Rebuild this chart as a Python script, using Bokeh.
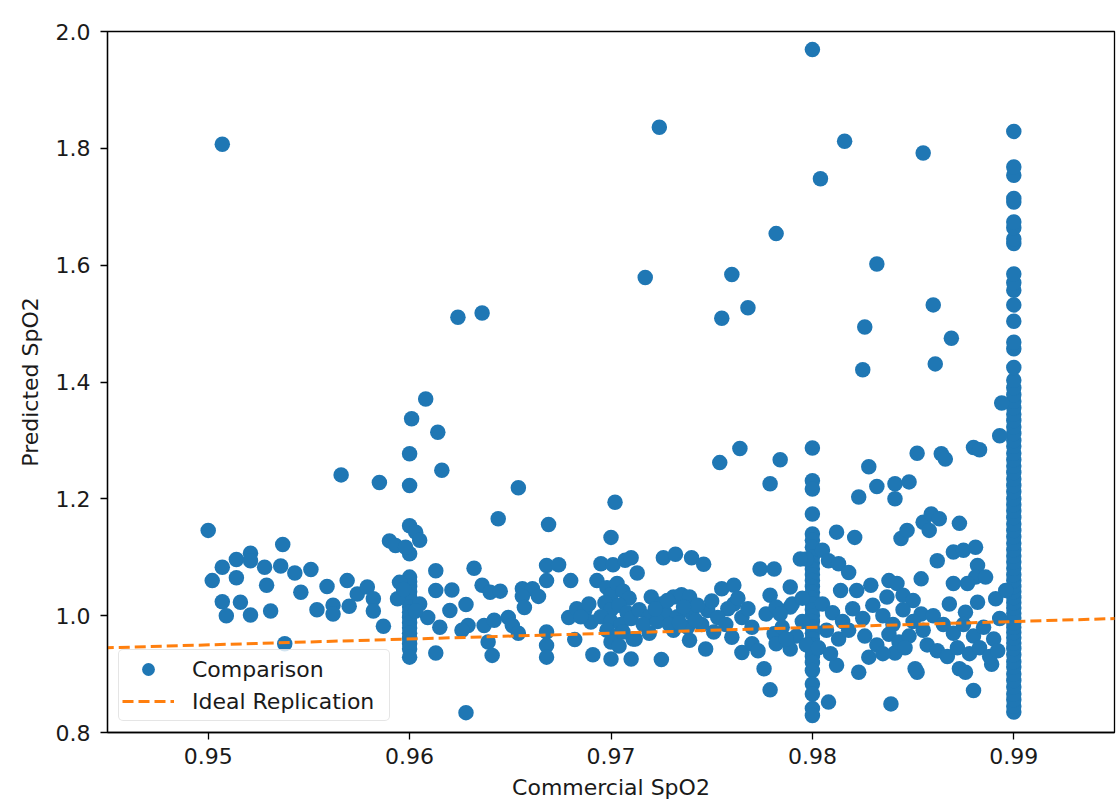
from bokeh.plotting import figure
from bokeh.models import Range1d, FixedTicker, Legend, LegendItem, ColumnDataSource
from bokeh.embed import file_html
from bokeh.resources import INLINE

# ---------------- data ----------------
x_ticks = [0.95, 0.96, 0.97, 0.98, 0.99]
x_tick_labels = ["0.95", "0.96", "0.97", "0.98", "0.99"]
y_ticks = [0.8, 1.0, 1.2, 1.4, 1.6, 1.8, 2.0]
y_tick_labels = ["0.8", "1.0", "1.2", "1.4", "1.6", "1.8", "2.0"]

# points stacked on the three commercial values that appear as columns
col_096_y = [1.277, 1.223, 1.154, 1.106, 1.066, 1.058, 1.050, 1.041, 1.032, 1.024,
             1.015, 1.006, 0.997, 0.988, 0.979, 0.970, 0.961, 0.952, 0.943, 0.929]
col_098_y = [1.969, 1.287, 1.231, 1.217, 1.174, 1.140, 1.129, 1.117, 1.100, 1.090,
             1.080, 1.070, 1.060, 1.050, 1.040, 1.030, 1.020, 1.010, 1.000, 0.990,
             0.980, 0.970, 0.960, 0.950, 0.940, 0.930, 0.920, 0.906, 0.883, 0.866,
             0.841, 0.829]
col_099_y = [0.835, 0.845, 0.856, 0.866, 0.878, 0.889, 0.900, 0.912, 0.921, 0.933,
             0.944, 0.953, 0.962, 0.971, 0.980, 0.988, 0.996, 1.004, 1.013, 1.022,
             1.031, 1.041, 1.050, 1.060, 1.070, 1.081, 1.092, 1.102, 1.113, 1.124,
             1.135, 1.146, 1.157, 1.168, 1.179, 1.190, 1.200, 1.212, 1.223, 1.234,
             1.245, 1.256, 1.267, 1.278, 1.290, 1.300, 1.312, 1.323, 1.334, 1.345,
             1.356, 1.367, 1.378, 1.390, 1.403, 1.425, 1.457, 1.468, 1.504, 1.532,
             1.557, 1.570, 1.585, 1.637, 1.645, 1.664, 1.674, 1.708, 1.714, 1.754,
             1.768, 1.829]

# remaining scattered points (commercial, predicted)
scattered_points = [
    (0.9507, 1.807), (0.9500, 1.146), (0.9537, 1.122), (0.9521, 1.107), (0.9514, 1.096),
    (0.9507, 1.083), (0.9521, 1.094), (0.9528, 1.083), (0.9536, 1.085), (0.9543, 1.073),
    (0.9551, 1.079), (0.9502, 1.060), (0.9514, 1.065), (0.9529, 1.052), (0.9546, 1.040),
    (0.9559, 1.050), (0.9569, 1.060), (0.9507, 1.024), (0.9516, 1.023), (0.9509, 1.000),
    (0.9521, 1.001), (0.9531, 1.008), (0.9554, 1.010), (0.9562, 1.018), (0.9562, 1.003),
    (0.9570, 1.016), (0.9574, 1.037), (0.9579, 1.049), (0.9582, 1.029), (0.9582, 1.008),
    (0.9587, 0.982), (0.9538, 0.952), (0.9566, 1.241), (0.9585, 1.228), (0.9590, 1.128),
    (0.9593, 1.120), (0.9595, 1.057), (0.9594, 1.029),
    (0.9601, 1.337), (0.9608, 1.371), (0.9614, 1.314), (0.9616, 1.249), (0.9624, 1.511),
    (0.9636, 1.518), (0.9603, 1.143), (0.9605, 1.129), (0.9598, 1.117), (0.9605, 1.020),
    (0.9609, 0.997), (0.9613, 1.077), (0.9613, 1.043), (0.9615, 0.980), (0.9613, 0.936),
    (0.9597, 1.045), (0.9603, 1.008),
    (0.9621, 1.044), (0.9628, 1.019), (0.9620, 1.009), (0.9629, 0.983), (0.9626, 0.975),
    (0.9632, 1.081), (0.9628, 0.834), (0.9644, 1.166), (0.9654, 1.219), (0.9669, 1.156),
    (0.9636, 1.052), (0.9640, 1.040), (0.9645, 1.042), (0.9637, 0.983), (0.9639, 0.955),
    (0.9641, 0.932), (0.9642, 0.992), (0.9649, 0.997), (0.9651, 0.983), (0.9654, 0.970),
    (0.9656, 1.046), (0.9661, 1.046), (0.9664, 1.033), (0.9656, 1.033), (0.9657, 1.014),
    (0.9668, 1.086), (0.9674, 1.087), (0.9668, 1.060), (0.9680, 1.060), (0.9668, 0.972),
    (0.9668, 0.949), (0.9668, 0.929), (0.9682, 0.959), (0.9679, 0.997), (0.9683, 1.012),
    (0.9687, 1.009), (0.9690, 0.989), (0.9691, 0.933),
    (0.9695, 1.089), (0.9701, 1.087), (0.9707, 1.095), (0.9710, 1.099), (0.9713, 1.073),
    (0.9702, 1.194), (0.9700, 1.134),
    (0.9693, 1.060), (0.9698, 1.048), (0.9700, 1.036), (0.9703, 1.055), (0.9706, 1.042),
    (0.9709, 1.030), (0.9697, 1.022), (0.9700, 1.010), (0.9704, 1.018), (0.9708, 1.005),
    (0.9695, 0.998), (0.9700, 0.990), (0.9705, 0.985), (0.9710, 0.995), (0.9698, 0.975),
    (0.9702, 0.965), (0.9706, 0.972), (0.9700, 0.955), (0.9704, 0.948), (0.9700, 0.926),
    (0.9710, 0.926), (0.9712, 0.960), (0.9685, 0.998), (0.9689, 1.020),
    (0.9717, 1.579), (0.9724, 1.836), (0.9755, 1.509), (0.9760, 1.584), (0.9768, 1.527),
    (0.9782, 1.654), (0.9754, 1.262), (0.9764, 1.286), (0.9784, 1.267), (0.9779, 1.226),
    (0.9726, 1.099), (0.9732, 1.105), (0.9740, 1.099), (0.9746, 1.088),
    (0.9720, 1.032), (0.9725, 1.020), (0.9731, 1.032), (0.9735, 1.036), (0.9739, 1.032),
    (0.9714, 1.010), (0.9719, 0.998), (0.9727, 1.004), (0.9733, 0.998), (0.9740, 1.004),
    (0.9719, 0.970), (0.9731, 0.975), (0.9738, 0.980), (0.9711, 0.960), (0.9725, 0.925),
    (0.9739, 0.958), (0.9747, 0.943), (0.9751, 0.972), (0.9755, 1.046), (0.9761, 1.052),
    (0.9761, 1.020), (0.9758, 1.012), (0.9748, 1.009), (0.9753, 0.997), (0.9760, 0.963),
    (0.9765, 0.937), (0.9770, 0.952), (0.9773, 0.940), (0.9765, 0.997), (0.9770, 0.980),
    (0.9774, 1.080), (0.9781, 1.080), (0.9779, 1.035), (0.9777, 1.003), (0.9782, 1.015),
    (0.9781, 0.969), (0.9782, 0.952), (0.9776, 0.909), (0.9779, 0.873), (0.9789, 1.049),
    (0.9789, 1.015), (0.9784, 1.003), (0.9789, 0.943), (0.9797, 1.097), (0.9794, 1.097),
    (0.9750, 1.025), (0.9745, 0.985), (0.9757, 0.985), (0.9763, 1.030), (0.9768, 1.012),
    (0.9716, 0.985), (0.9723, 0.990), (0.9729, 0.985), (0.9743, 1.018),
    (0.9722, 1.012), (0.9728, 1.026), (0.9736, 1.015), (0.9742, 0.992), (0.9734, 0.988),
    (0.9790, 1.020), (0.9795, 0.990), (0.9785, 0.980), (0.9792, 0.965), (0.9787, 0.960),
    (0.9795, 1.030), (0.9797, 0.950),
    (0.9804, 1.748), (0.9816, 1.812), (0.9855, 1.792), (0.9832, 1.602), (0.9860, 1.532),
    (0.9826, 1.494), (0.9869, 1.475), (0.9861, 1.431), (0.9825, 1.421),
    (0.9894, 1.364), (0.9893, 1.308), (0.9880, 1.288), (0.9883, 1.284), (0.9864, 1.277),
    (0.9866, 1.268), (0.9852, 1.278), (0.9828, 1.255),
    (0.9832, 1.221), (0.9841, 1.226), (0.9848, 1.229), (0.9841, 1.200), (0.9823, 1.203),
    (0.9812, 1.143), (0.9821, 1.134), (0.9844, 1.132), (0.9847, 1.146),
    (0.9855, 1.160), (0.9859, 1.174), (0.9863, 1.166), (0.9858, 1.146), (0.9873, 1.158),
    (0.9862, 1.094), (0.9870, 1.109), (0.9875, 1.112), (0.9881, 1.117),
    (0.9882, 1.086), (0.9881, 1.066), (0.9886, 1.066), (0.9877, 1.055), (0.9870, 1.055),
    (0.9854, 1.063),
    (0.9868, 1.020), (0.9876, 1.006), (0.9882, 1.023), (0.9891, 1.029), (0.9896, 1.043),
    (0.9805, 1.112), (0.9808, 1.094), (0.9813, 1.089), (0.9818, 1.074),
    (0.9829, 1.052), (0.9838, 1.060), (0.9842, 1.055), (0.9814, 1.043), (0.9822, 1.043),
    (0.9837, 1.032), (0.9845, 1.035), (0.9850, 1.026), (0.9854, 1.003),
    (0.9880, 0.872), (0.9873, 0.909), (0.9876, 0.903), (0.9889, 0.917),
    (0.9852, 0.903), (0.9851, 0.909), (0.9841, 0.936), (0.9839, 0.849), (0.9808, 0.852),
    (0.9823, 0.903), (0.9812, 0.915), (0.9828, 0.929),
    (0.9805, 1.020), (0.9810, 1.005), (0.9815, 0.990), (0.9820, 1.012), (0.9825, 0.995),
    (0.9830, 1.018), (0.9835, 1.000), (0.9840, 0.985), (0.9845, 1.010), (0.9850, 0.990),
    (0.9855, 0.975), (0.9860, 1.000), (0.9865, 0.985), (0.9870, 0.970), (0.9875, 0.985),
    (0.9880, 0.965), (0.9885, 0.980), (0.9890, 0.960), (0.9893, 0.995),
    (0.9807, 0.975), (0.9813, 0.960), (0.9818, 0.975), (0.9826, 0.965), (0.9832, 0.950),
    (0.9838, 0.968), (0.9843, 0.955), (0.9848, 0.965), (0.9857, 0.950), (0.9862, 0.940),
    (0.9867, 0.930), (0.9872, 0.945), (0.9878, 0.935), (0.9883, 0.945), (0.9888, 0.930),
    (0.9892, 0.940), (0.9803, 0.945), (0.9809, 0.935), (0.9835, 0.935), (0.9846, 0.945),
]

# ideal replication: predicted == commercial
ideal_x = [0.94, 1.00]
ideal_y = [0.94, 1.00]

# ---------------- assemble ----------------
commercial = ([0.96] * len(col_096_y) + [0.98] * len(col_098_y) + [0.99] * len(col_099_y)
              + [pt[0] for pt in scattered_points])
predicted = col_096_y + col_098_y + col_099_y + [pt[1] for pt in scattered_points]

src = ColumnDataSource(dict(x=commercial, y=predicted))

FONT = "DejaVu Sans"
TEXT = "#1a1a1a"

p = figure(width=1119, height=808, output_backend="svg", toolbar_location=None,
           x_range=Range1d(0.945, 0.995), y_range=Range1d(0.8, 2.0),
           min_border_left=107, min_border_right=5, min_border_top=31, min_border_bottom=76)
p.background_fill_color = "white"
p.border_fill_color = "white"
p.outline_line_color = "black"
p.outline_line_width = 1.3
p.outline_line_alpha = 1.0
p.xgrid.visible = False
p.ygrid.visible = False

sc = p.scatter("x", "y", source=src, size=15.5, fill_color="#1f77b4", line_color="#1f77b4",
               line_width=0)
ln = p.line(ideal_x, ideal_y, line_color="#ff7f0e", line_width=3, line_dash="11 5")

p.xaxis.ticker = FixedTicker(ticks=x_ticks)
p.xaxis.major_label_overrides = dict(zip(x_ticks, x_tick_labels))
p.yaxis.ticker = FixedTicker(ticks=y_ticks)
p.yaxis.major_label_overrides = dict(zip(y_ticks, y_tick_labels))
p.xaxis.axis_label = "Commercial SpO2"
p.yaxis.axis_label = "Predicted SpO2"

for ax in (p.xaxis[0], p.yaxis[0]):
    ax.axis_line_color = "black"
    ax.axis_line_width = 1.3
    ax.major_tick_line_color = "black"
    ax.major_tick_line_width = 1.3
    ax.major_tick_out = 7
    ax.major_tick_in = 0
    ax.minor_tick_line_color = None
    ax.major_label_text_font = FONT
    ax.major_label_text_font_size = "22px"
    ax.major_label_text_color = TEXT
    ax.axis_label_text_font = FONT
    ax.axis_label_text_font_size = "22px"
    ax.axis_label_text_font_style = "normal"
    ax.axis_label_text_color = TEXT

p.xaxis.major_label_standoff = 8
p.xaxis.axis_label_standoff = 8
p.yaxis.major_label_standoff = 10
p.yaxis.axis_label_standoff = 10

legend = Legend(items=[LegendItem(label="Comparison", renderers=[sc]),
                       LegendItem(label="Ideal Replication", renderers=[ln])],
                location=(11, 11), margin=0, padding=3, spacing=0,
                glyph_width=52, glyph_height=32, label_standoff=18, label_width=194,
                label_text_font=FONT, label_text_font_size="22px", label_text_color=TEXT,
                border_line_color="#cccccc", border_line_width=1.3,
                background_fill_color="white", background_fill_alpha=0.8)
if "border_radius" in Legend.properties():
    legend.border_radius = 5
p.add_layout(legend)

open("out.html", "w").write(file_html(p, INLINE))
